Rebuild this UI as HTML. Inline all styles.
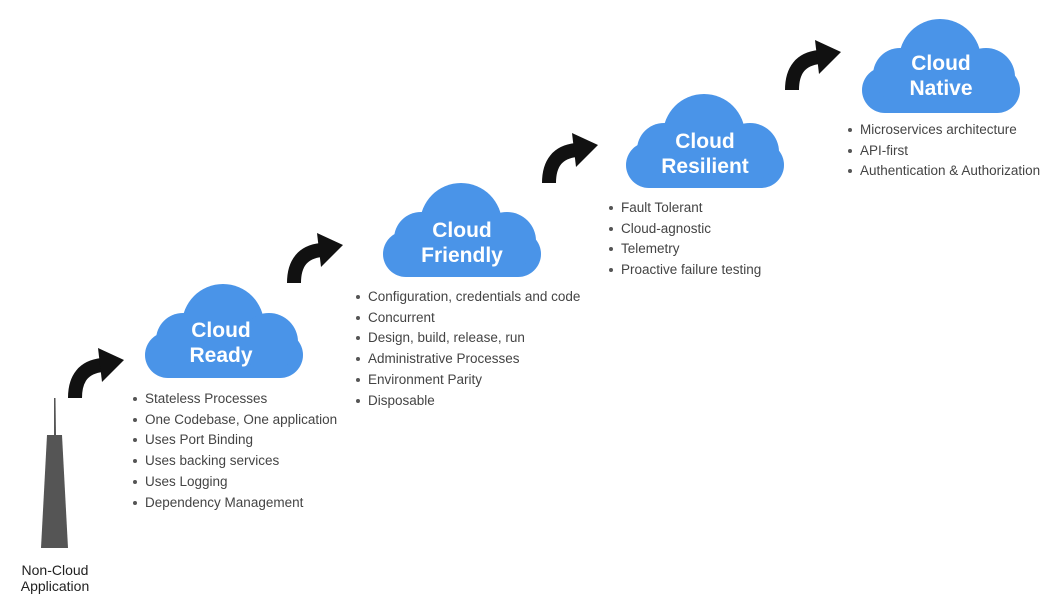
<!DOCTYPE html>
<html><head><style>
body{margin:0;width:1058px;height:612px;background:#fff;position:relative;overflow:hidden;font-family:"Liberation Sans",sans-serif}
.t{position:absolute;color:#fff;font-weight:bold;font-size:21px;text-align:center;line-height:25px;width:158px}
ul{position:absolute;margin:0;padding:0;list-style:none;font-size:13.5px;color:#444;line-height:20.7px}
li{position:relative;padding-left:12px;white-space:nowrap}
li:before{content:"";position:absolute;left:0;top:8px;width:4px;height:4px;border-radius:50%;background:#555}
.lbl{position:absolute;left:5px;width:100px;text-align:center;font-size:14px;color:#222;line-height:16px;top:562px}
</style></head><body>
<svg width="1058" height="612" style="position:absolute;left:0;top:0">
<defs>
<g id="cl" fill="#4a94e8">
<rect x="0" y="48" width="158" height="46" rx="23"/>
<circle cx="78" cy="41" r="41"/>
<circle cx="38" cy="56" r="27"/>
<circle cx="124" cy="58" r="29"/>
</g>
<g id="ar">
<path d="M9,52 Q9,22 36,19" fill="none" stroke="#111" stroke-width="14"/>
<polygon points="32,2 58,14 36,36" fill="#111"/>
</g>
</defs>
<use href="#cl" x="145" y="284"/>
<use href="#cl" x="383" y="183"/>
<use href="#cl" x="626" y="94"/>
<use href="#cl" x="862" y="19"/>
<use href="#ar" x="66" y="346"/>
<use href="#ar" x="285" y="231"/>
<use href="#ar" x="540" y="131"/>
<use href="#ar" x="783" y="38"/>
<polygon points="54,398 55.5,398 56,435 54,435" fill="#555"/>
<polygon points="47,435 62,435 68,548 41,548" fill="#555"/>
</svg>
<div class="t" style="left:142px;top:318px">Cloud<br>Ready</div>
<div class="t" style="left:383px;top:218px">Cloud<br>Friendly</div>
<div class="t" style="left:626px;top:129px">Cloud<br>Resilient</div>
<div class="t" style="left:862px;top:51px">Cloud<br>Native</div>
<ul style="left:133px;top:389px"><li>Stateless Processes</li><li>One Codebase, One application</li><li>Uses Port Binding</li><li>Uses backing services</li><li>Uses Logging</li><li>Dependency Management</li></ul>
<ul style="left:356px;top:287px"><li>Configuration, credentials and code</li><li>Concurrent</li><li>Design, build, release, run</li><li>Administrative Processes</li><li>Environment Parity</li><li>Disposable</li></ul>
<ul style="left:609px;top:198px"><li>Fault Tolerant</li><li>Cloud-agnostic</li><li>Telemetry</li><li>Proactive failure testing</li></ul>
<ul style="left:848px;top:120px"><li>Microservices architecture</li><li>API-first</li><li>Authentication &amp; Authorization</li></ul>
<div class="lbl">Non-Cloud<br>Application</div>
</body></html>
